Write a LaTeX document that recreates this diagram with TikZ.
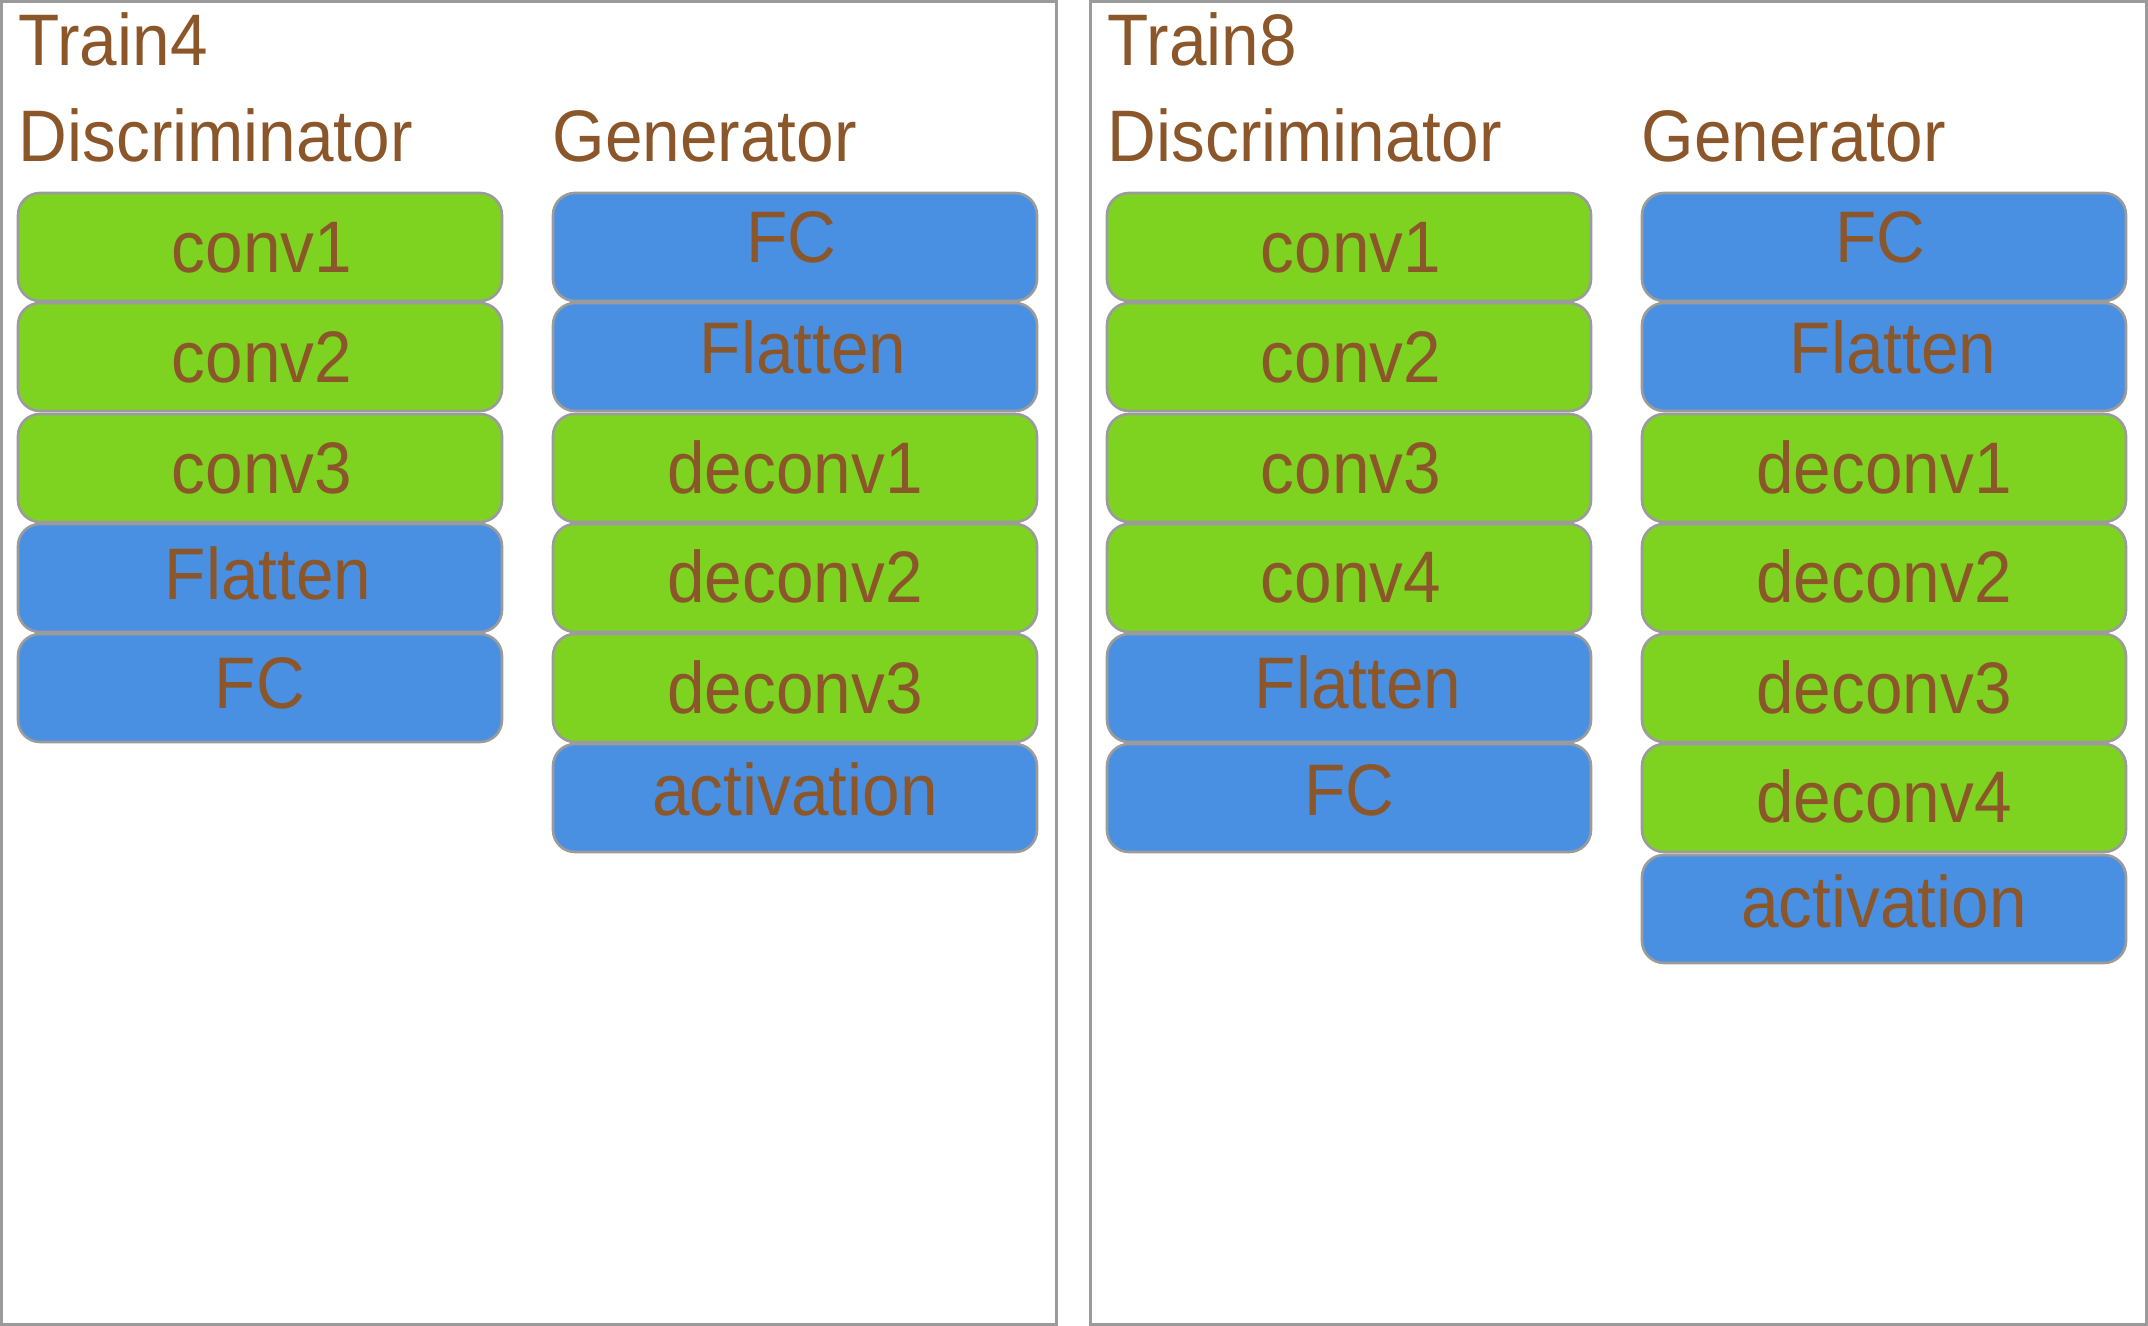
\documentclass[tikz,border=0pt]{standalone}
\usepackage{fontspec}
\setmainfont{Liberation Sans}[FakeStretch=0.925]

\definecolor{labelbrown}{RGB}{139,87,42}
\definecolor{convgreen}{RGB}{126,211,33}
\definecolor{denseblue}{RGB}{74,144,226}
\definecolor{edgegray}{RGB}{155,155,155}

\tikzset{every picture/.style={line width=0.75pt}}
\tikzset{
  panel/.style={draw=edgegray, line width=1.5pt},
  convlayer/.style={draw=edgegray, line width=1.3pt, rounded corners=11pt, fill=convgreen},
  denselayer/.style={convlayer, fill=denseblue},
  heading/.style={anchor=base west, inner sep=0pt, text=labelbrown, font=\fontsize{36.5}{44}\selectfont},
  layername/.style={anchor=base, inner sep=0pt, text=labelbrown, font=\fontsize{36.5}{44}\selectfont},
}

\begin{document}
\begin{tikzpicture}[x=0.5pt,y=0.5pt,yscale=-1,xscale=1]
        \useasboundingbox (0,0) rectangle (2148,1326);

        %Shape: Rectangle [id:train4frame]
        \draw [panel] (1.5,1.5) rectangle (1056.5,1324.5) ;
        %Shape: Rectangle [id:train8frame]
        \draw [panel] (1090.5,1.5) rectangle (2146.5,1324.5) ;

        % Text Node
        \draw (18,66) node [heading] (t4title) {Train4};
        % Text Node
        \draw (18,162) node [heading] (t4disc) {Discriminator};
        % Text Node
        \draw (552,162) node [heading] (t4gen) {Generator};
        % Text Node
        \draw (1107,66) node [heading] (t8title) {Train8};
        % Text Node
        \draw (1107,162) node [heading] (t8disc) {Discriminator};
        % Text Node
        \draw (1641,162) node [heading] (t8gen) {Generator};

        %Train4 discriminator
        %Rounded Rect [id:t4d1]
        \draw [convlayer] (18,193) rectangle (502,301) ;
        %Rounded Rect [id:t4d2]
        \draw [convlayer] (18,303) rectangle (502,411) ;
        %Rounded Rect [id:t4d3]
        \draw [convlayer] (18,414) rectangle (502,522) ;
        %Rounded Rect [id:t4d4]
        \draw [denselayer] (18,524) rectangle (502,632) ;
        %Rounded Rect [id:t4d5]
        \draw [denselayer] (18,634) rectangle (502,742) ;

        % Text Node
        \draw (262,273) node [layername] (t4conv1) {conv1};
        % Text Node
        \draw (262,383) node [layername] (t4conv2) {conv2};
        % Text Node
        \draw (262,494) node [layername] (t4conv3) {conv3};
        % Text Node
        \draw (268,599) node [layername] (t4dflat) {Flatten};
        % Text Node
        \draw (260,708) node [layername] (t4dfc) {FC};

        %Train4 generator
        %Rounded Rect [id:t4g1]
        \draw [denselayer] (553,193) rectangle (1037,301) ;
        %Rounded Rect [id:t4g2]
        \draw [denselayer] (553,303) rectangle (1037,411) ;
        %Rounded Rect [id:t4g3]
        \draw [convlayer] (553,414) rectangle (1037,522) ;
        %Rounded Rect [id:t4g4]
        \draw [convlayer] (553,524) rectangle (1037,632) ;
        %Rounded Rect [id:t4g5]
        \draw [convlayer] (553,634) rectangle (1037,742) ;
        %Rounded Rect [id:t4g6]
        \draw [denselayer] (553,744) rectangle (1037,852) ;

        % Text Node
        \draw (791,263) node [layername] (t4gfc) {FC};
        % Text Node
        \draw (803,374) node [layername] (t4gflat) {Flatten};
        % Text Node
        \draw (795,494) node [layername] (t4deconv1) {deconv1};
        % Text Node
        \draw (795,603) node [layername] (t4deconv2) {deconv2};
        % Text Node
        \draw (795,713) node [layername] (t4deconv3) {deconv3};
        % Text Node
        \draw (795,815) node [layername] (t4act) {activation};

        %Train8 discriminator
        %Rounded Rect [id:t8d1]
        \draw [convlayer] (1107,193) rectangle (1591,301) ;
        %Rounded Rect [id:t8d2]
        \draw [convlayer] (1107,303) rectangle (1591,411) ;
        %Rounded Rect [id:t8d3]
        \draw [convlayer] (1107,414) rectangle (1591,522) ;
        %Rounded Rect [id:t8d4]
        \draw [convlayer] (1107,524) rectangle (1591,632) ;
        %Rounded Rect [id:t8d5]
        \draw [denselayer] (1107,634) rectangle (1591,742) ;
        %Rounded Rect [id:t8d6]
        \draw [denselayer] (1107,744) rectangle (1591,852) ;

        % Text Node
        \draw (1351,273) node [layername] (t8conv1) {conv1};
        % Text Node
        \draw (1351,383) node [layername] (t8conv2) {conv2};
        % Text Node
        \draw (1351,494) node [layername] (t8conv3) {conv3};
        % Text Node
        \draw (1351,603) node [layername] (t8conv4) {conv4};
        % Text Node
        \draw (1358,708) node [layername] (t8dflat) {Flatten};
        % Text Node
        \draw (1349,815) node [layername] (t8dfc) {FC};

        %Train8 generator
        %Rounded Rect [id:t8g1]
        \draw [denselayer] (1642,193) rectangle (2126,301) ;
        %Rounded Rect [id:t8g2]
        \draw [denselayer] (1642,303) rectangle (2126,411) ;
        %Rounded Rect [id:t8g3]
        \draw [convlayer] (1642,414) rectangle (2126,522) ;
        %Rounded Rect [id:t8g4]
        \draw [convlayer] (1642,524) rectangle (2126,632) ;
        %Rounded Rect [id:t8g5]
        \draw [convlayer] (1642,634) rectangle (2126,742) ;
        %Rounded Rect [id:t8g6]
        \draw [convlayer] (1642,744) rectangle (2126,852) ;
        %Rounded Rect [id:t8g7]
        \draw [denselayer] (1642,855) rectangle (2126,963) ;

        % Text Node
        \draw (1880,263) node [layername] (t8gfc) {FC};
        % Text Node
        \draw (1893,374) node [layername] (t8gflat) {Flatten};
        % Text Node
        \draw (1884,494) node [layername] (t8deconv1) {deconv1};
        % Text Node
        \draw (1884,603) node [layername] (t8deconv2) {deconv2};
        % Text Node
        \draw (1884,713) node [layername] (t8deconv3) {deconv3};
        % Text Node
        \draw (1884,822) node [layername] (t8deconv4) {deconv4};
        % Text Node
        \draw (1884,927) node [layername] (t8act) {activation};

\end{tikzpicture}
\end{document}
